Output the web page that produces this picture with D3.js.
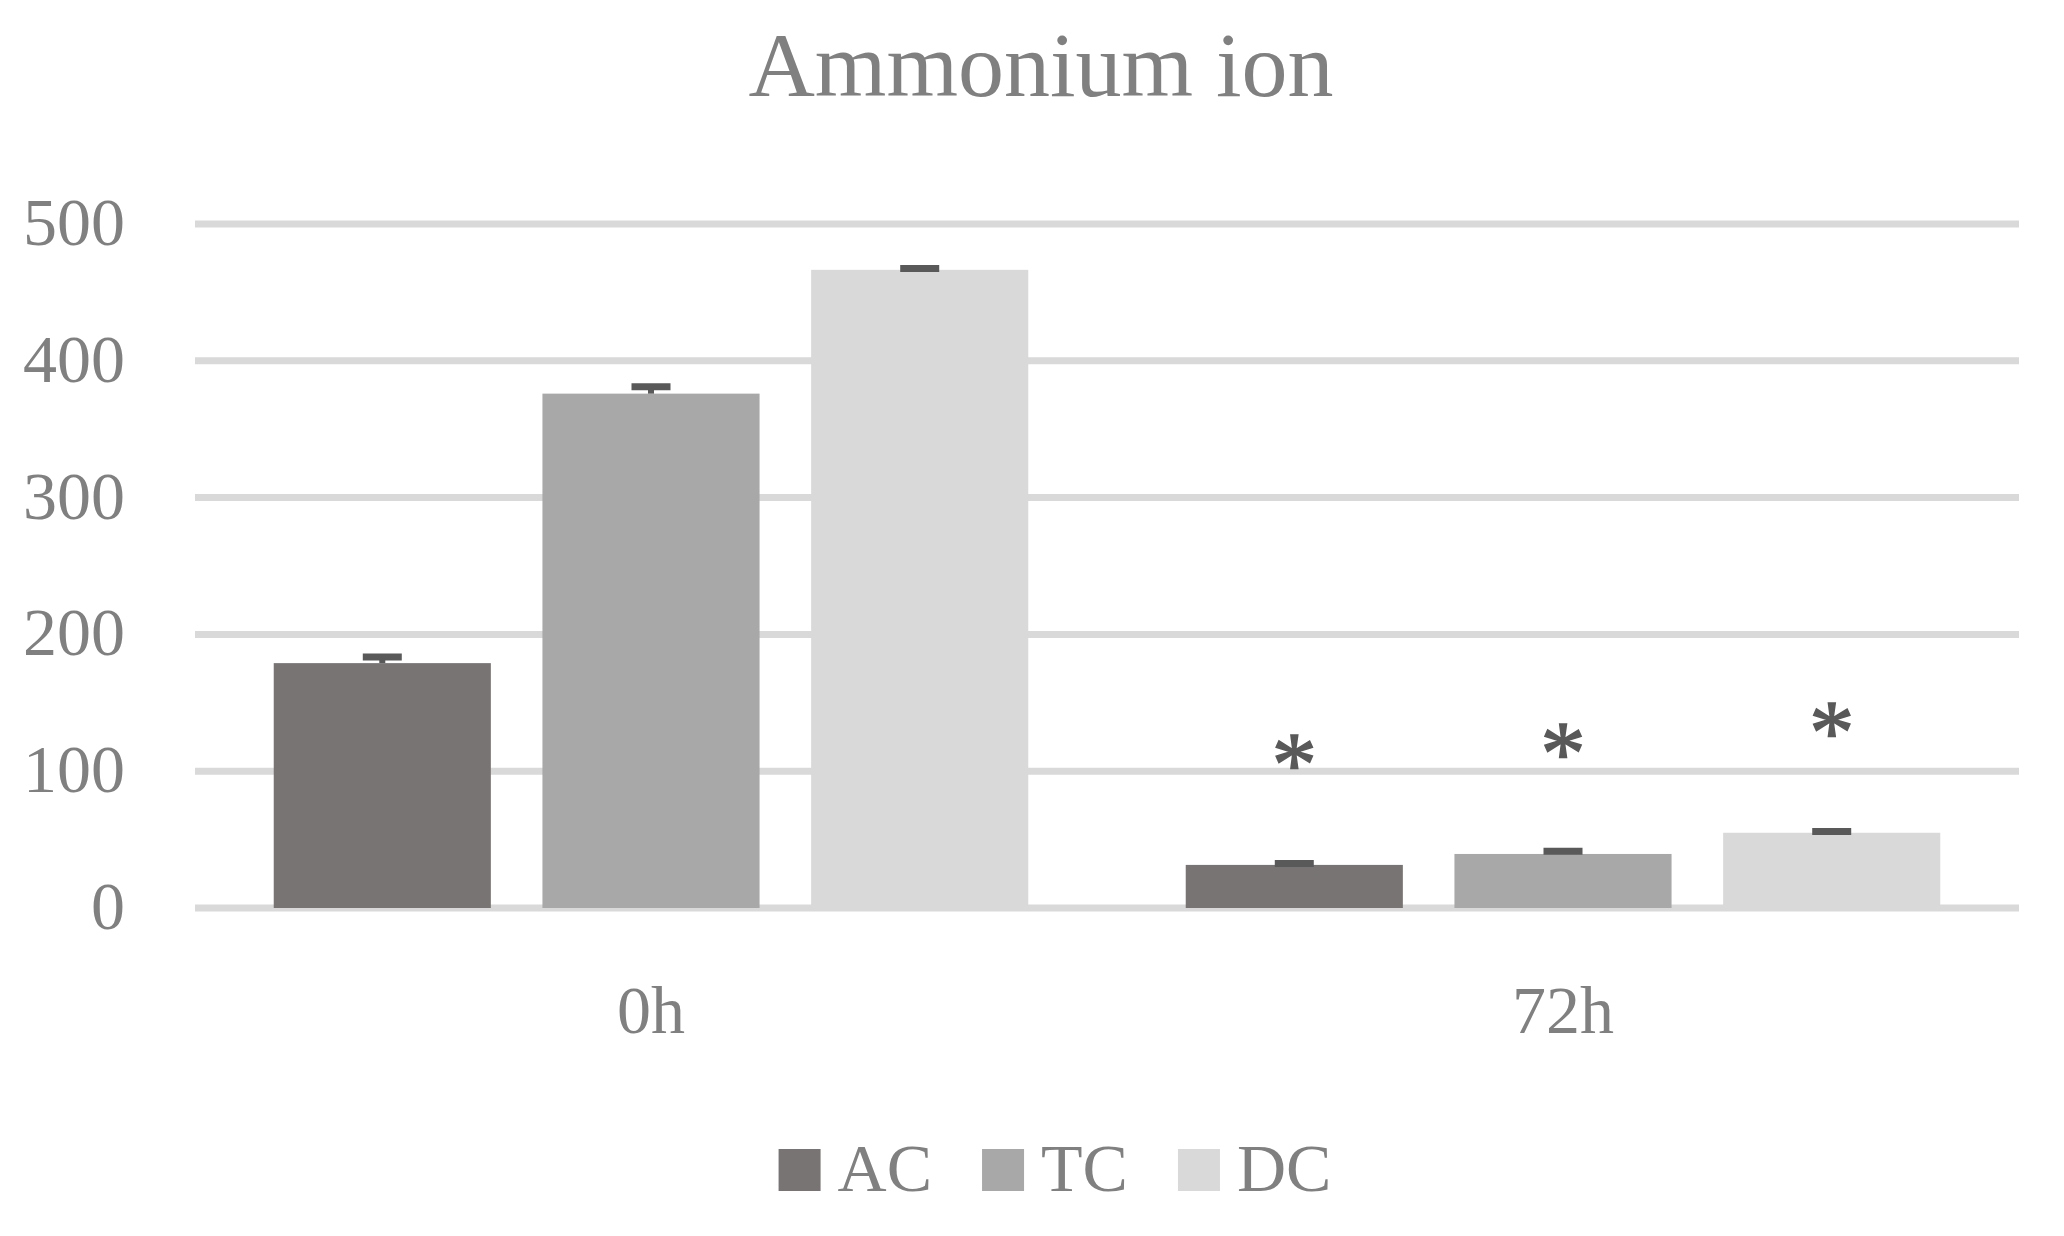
<!DOCTYPE html>
<html>
<head>
<meta charset="utf-8">
<script src="https://cdn.jsdelivr.net/npm/d3@7"></script>
<style>
  html, body { margin: 0; padding: 0; background: #fff; }
  text { font-family: "Liberation Serif", "Times New Roman", serif; fill: #808080; }
</style>
</head>
<body>
<svg id="chart"></svg>
<script>
// --- Data ---
const groups = ["0h", "72h"];
const series = ["AC", "TC", "DC"];
const valuesAC = [179, 31.5];
const valuesTC = [376, 39.5];
const valuesDC = [466.5, 55];
const errorsAC = [4.5, 1];
const errorsTC = [5, 2];
const errorsDC = [1, 1];
const marksAC = ["", "*"];
const marksTC = ["", "*"];
const marksDC = ["", "*"];
const yTicks = [0, 100, 200, 300, 400, 500];
const chartTitle = "Ammonium ion";

const colors = { AC: "#797474", TC: "#a8a8a8", DC: "#d9d9d9" };

// --- Setup ---
const W = 2064, H = 1236;
const margin = { top: 224, right: 45, bottom: 328, left: 195 };
const width = W - margin.left - margin.right;
const height = H - margin.top - margin.bottom;

const svg = d3.select("#chart").attr("width", W).attr("height", H);
const g = svg.append("g").attr("transform", `translate(${margin.left},${margin.top})`);

// build rows for drawing
const seriesData = {
  AC: { v: valuesAC, e: errorsAC, m: marksAC },
  TC: { v: valuesTC, e: errorsTC, m: marksTC },
  DC: { v: valuesDC, e: errorsDC, m: marksDC }
};
const rows = [];
groups.forEach((grp, i) => {
  series.forEach(s => {
    rows.push({ group: grp, key: s, value: seriesData[s].v[i], err: seriesData[s].e[i], mark: seriesData[s].m[i] });
  });
});

// --- Scales ---
const x0 = d3.scaleBand().domain(groups).range([0, width]).padding(0);
const x1 = d3.scaleBand().domain(series).range([0, x0.bandwidth()])
  .paddingInner(0.192).paddingOuter(0.293);
const y = d3.scaleLinear().domain([0, 500]).range([height, 0]);

// --- Gridlines ---
g.append("g")
  .selectAll("line")
  .data(yTicks)
  .enter().append("line")
  .attr("x1", 0).attr("x2", width)
  .attr("y1", d => y(d)).attr("y2", d => y(d))
  .attr("stroke", "#d9d9d9")
  .attr("stroke-width", 7);

// --- Y axis labels ---
const yAxis = d3.axisLeft(y).tickValues(yTicks).tickSize(0).tickPadding(70);
const yAxisGroup = g.append("g").call(yAxis);
yAxisGroup.select(".domain").remove();
yAxisGroup.selectAll("text")
  .attr("font-size", 68)
  .attr("font-family", null)
  .attr("fill", "#808080")
  .attr("dy", "0.3em");

// --- Bars ---
const barG = g.append("g");
barG.selectAll("rect")
  .data(rows)
  .enter().append("rect")
  .attr("x", d => x0(d.group) + x1(d.key))
  .attr("y", d => y(d.value))
  .attr("width", x1.bandwidth())
  .attr("height", d => y(0) - y(d.value))
  .attr("fill", d => colors[d.key]);

// --- Error bars (plus only) ---
const errG = g.append("g").attr("stroke", "#595959");
errG.selectAll(".stem")
  .data(rows)
  .enter().append("line")
  .attr("class", "stem")
  .attr("x1", d => x0(d.group) + x1(d.key) + x1.bandwidth() / 2)
  .attr("x2", d => x0(d.group) + x1(d.key) + x1.bandwidth() / 2)
  .attr("y1", d => y(d.value))
  .attr("y2", d => y(d.value + d.err))
  .attr("stroke-width", 6);
errG.selectAll(".cap")
  .data(rows)
  .enter().append("line")
  .attr("class", "cap")
  .attr("x1", d => x0(d.group) + x1(d.key) + x1.bandwidth() / 2 - 19.5)
  .attr("x2", d => x0(d.group) + x1(d.key) + x1.bandwidth() / 2 + 19.5)
  .attr("y1", d => y(d.value + d.err))
  .attr("y2", d => y(d.value + d.err))
  .attr("stroke-width", 7);

// --- Significance marks ---
g.append("g")
  .selectAll("text")
  .data(rows.filter(d => d.mark))
  .enter().append("text")
  .attr("x", d => x0(d.group) + x1(d.key) + x1.bandwidth() / 2)
  .attr("y", d => y(d.value) - 111 + 41)
  .attr("text-anchor", "middle")
  .attr("font-size", 90)
  .style("fill", "#595959")
  .style("stroke", "#595959")
  .style("stroke-width", 1.5)
  .text(d => d.mark);

// --- X axis labels ---
g.append("g")
  .selectAll("text")
  .data(groups)
  .enter().append("text")
  .attr("x", d => x0(d) + x0.bandwidth() / 2)
  .attr("y", 1033 - margin.top)
  .attr("text-anchor", "middle")
  .attr("font-size", 68)
  .text(d => d);

// --- Title ---
svg.append("text")
  .attr("x", 1041)
  .attr("y", 96)
  .attr("text-anchor", "middle")
  .attr("font-size", 92)
  .text(chartTitle);

// --- Legend ---
const legend = svg.append("g");
let lx = 0;
series.forEach(s => {
  const item = legend.append("g").attr("transform", `translate(${lx},0)`);
  item.append("rect")
    .attr("x", 0).attr("y", 1149)
    .attr("width", 42).attr("height", 42)
    .attr("fill", colors[s]);
  const t = item.append("text")
    .attr("x", 59).attr("y", 1191)
    .attr("font-size", 68)
    .text(s);
  lx += 59 + t.node().getComputedTextLength() + 50;
});
const legendWidth = lx - 50;
legend.attr("transform", `translate(${1055 - legendWidth / 2},0)`);
</script>
</body>
</html>
